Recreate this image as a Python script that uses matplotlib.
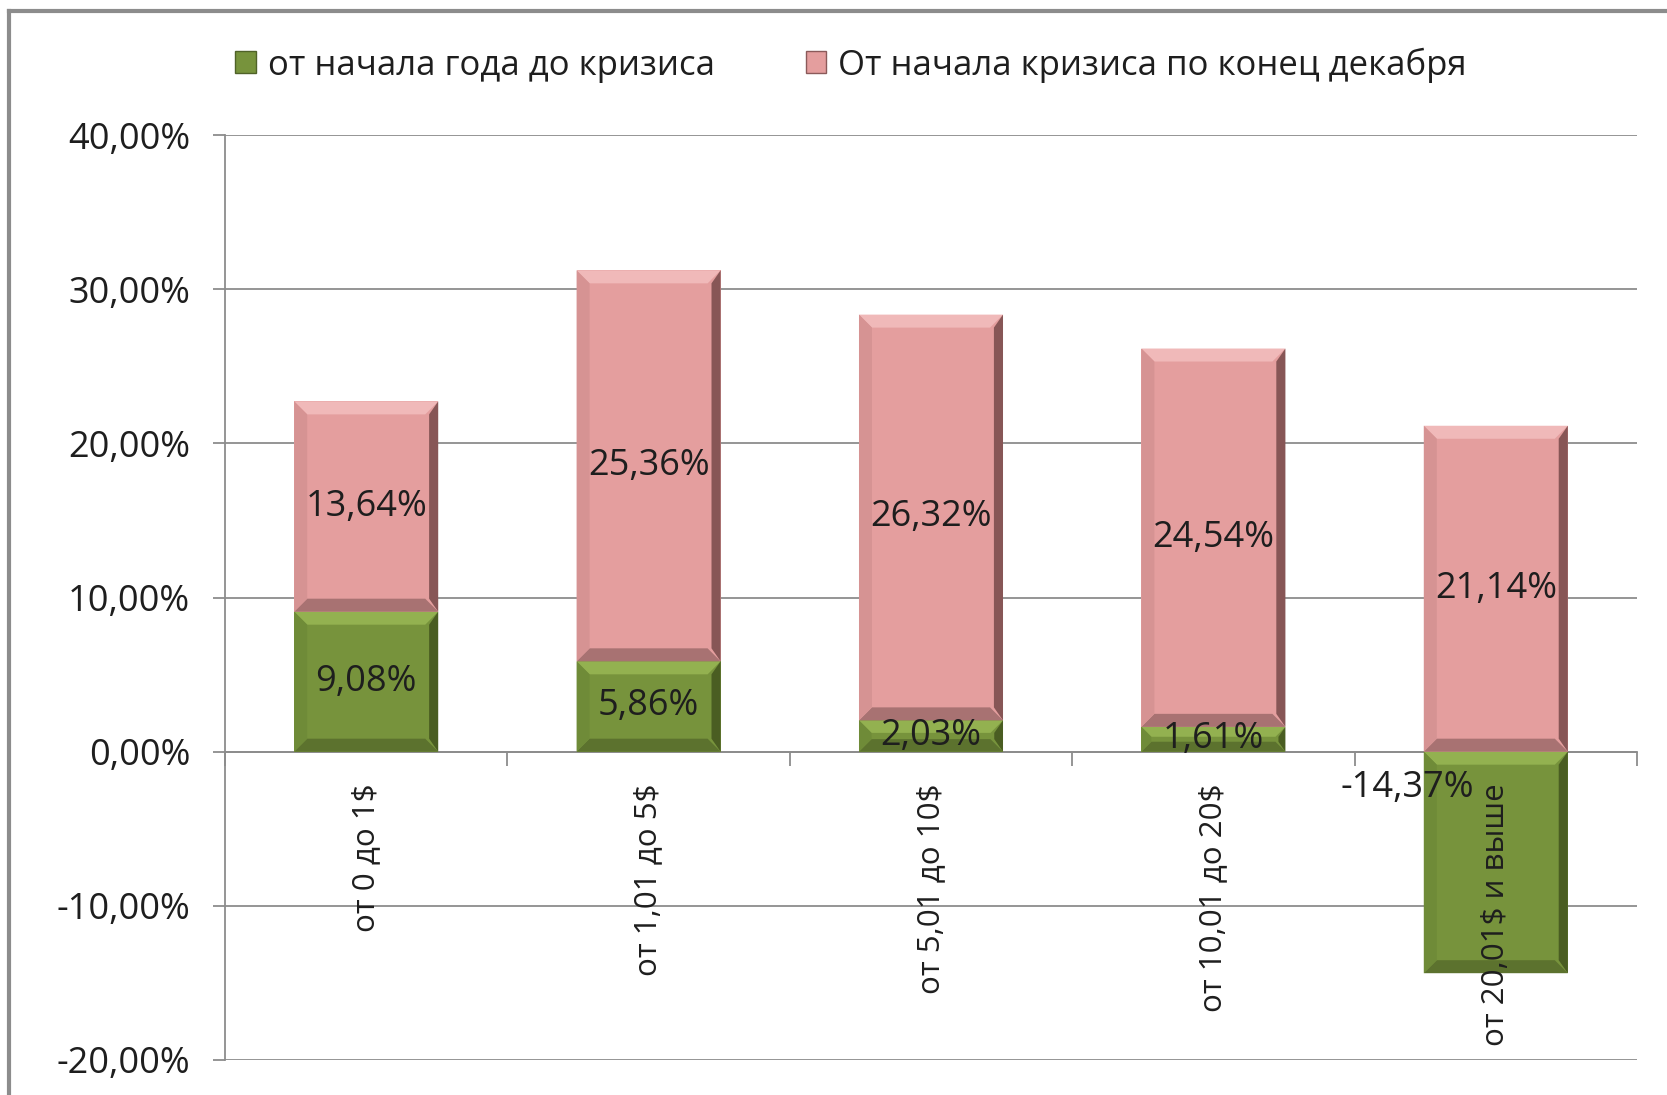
import matplotlib
matplotlib.use("Agg")
import matplotlib.pyplot as plt
from matplotlib.patches import Patch, Polygon
from matplotlib.lines import Line2D
from matplotlib.ticker import FuncFormatter, FixedLocator

# Данные
categories = ["от 0 до 1$", "от 1,01 до 5$", "от 5,01 до 10$", "от 10,01 до 20$", "от 20,01$ и выше"]
do_krizisa = [9.08, 5.86, 2.03, 1.61, -14.37]
posle_krizisa = [13.64, 25.36, 26.32, 24.54, 21.14]
series_names = ["от начала года до кризиса", "От начала кризиса по конец декабря"]

plt.rcParams["font.family"] = ["Open Sans", "DejaVu Sans"]

# Цвета
green = "#77933C"
pink = "#E49E9E"
grid_color = "#8C8C8C"
text_color = "#1E1E1E"

fig = plt.figure(figsize=(16.67, 10.95), dpi=100)
ax = fig.add_axes([225 / 1667, 1 - 1060 / 1095, 1412 / 1667, 925 / 1095])

x_pos = list(range(len(categories)))
bar_width = 0.51
ax.set_xlim(-0.5, len(categories) - 0.5)
ax.set_ylim(-20, 40)

bottoms = [max(v, 0) for v in do_krizisa]
bars_g = ax.bar(x_pos, do_krizisa, width=bar_width, color=green, zorder=3)
bars_p = ax.bar(x_pos, posle_krizisa, width=bar_width, bottom=bottoms, color=pink, zorder=3)


def bevel(patch, light, dark, side_l, side_r, d=13):
    # фаска по краям столбика (в пикселях)
    x0 = patch.get_x()
    y0 = patch.get_y()
    x1 = x0 + patch.get_width()
    y1 = y0 + patch.get_height()
    (px0, py0), (px1, py1) = ax.transData.transform([(x0, min(y0, y1)), (x1, max(y0, y1))])
    dd = min(d, (py1 - py0) / 2.5)
    inv = ax.transData.inverted()
    shapes = [
        ([(px0, py1), (px1, py1), (px1 - dd, py1 - dd), (px0 + dd, py1 - dd)], light),
        ([(px0, py0), (px1, py0), (px1 - dd, py0 + dd), (px0 + dd, py0 + dd)], dark),
        ([(px0, py0), (px0, py1), (px0 + dd, py1 - dd), (px0 + dd, py0 + dd)], side_l),
        ([(px1, py0), (px1, py1), (px1 - dd * 0.7, py1 - dd), (px1 - dd * 0.7, py0 + dd)], side_r),
    ]
    for pts, c in shapes:
        ax.add_patch(Polygon(inv.transform(pts), closed=True, facecolor=c, edgecolor="none", zorder=4))


for p in bars_g:
    bevel(p, "#93B150", "#5C722E", "#6F8B38", "#4A5D22")
for p in bars_p:
    bevel(p, "#F0B9B9", "#A87272", "#D69393", "#875656")


def fmt(v):
    return ("%.2f%%" % v).replace(".", ",")


# Подписи значений
for i in x_pos:
    g = do_krizisa[i]
    if g >= 0:
        ax.text(i, g / 2, fmt(g), ha="center", va="center", fontsize=26, color=text_color, zorder=5)
    else:
        ax.text(i - 0.315, -2.35, fmt(g), ha="center", va="center", fontsize=26, color=text_color, zorder=5)
    ax.text(i, bottoms[i] + posle_krizisa[i] / 2, fmt(posle_krizisa[i]), ha="center", va="center",
            fontsize=26, color=text_color, zorder=5)

# Подписи категорий (поверх столбиков)
for i, cat in zip(x_pos, categories):
    ax.annotate(cat, (i, 0), xytext=(0, -23), textcoords="offset points", rotation=90,
                ha="center", va="top", fontsize=22.5, color=text_color, zorder=6)

# Оси
ax.yaxis.set_major_locator(FixedLocator(range(-20, 41, 10)))
ax.yaxis.set_major_formatter(FuncFormatter(lambda v, pos: fmt(v)))
ax.grid(axis="y", color=grid_color, linewidth=1.3, zorder=0)
ax.set_axisbelow(True)
ax.tick_params(axis="y", direction="out", length=9, width=1.3, color=grid_color, labelsize=26,
               labelcolor=text_color, pad=16)

ax.spines["top"].set_visible(False)
ax.spines["right"].set_visible(False)
ax.spines["left"].set_color(grid_color)
ax.spines["left"].set_linewidth(1.3)
ax.spines["bottom"].set_position(("data", 0))
ax.spines["bottom"].set_color(grid_color)
ax.spines["bottom"].set_linewidth(1.3)

ax.set_xticks(x_pos)
ax.set_xticklabels([])
ax.tick_params(axis="x", which="major", length=0)
ax.set_xticks([i - 0.5 for i in range(len(categories) + 1)], minor=True)
ax.tick_params(axis="x", which="minor", direction="out", length=10, width=1.3, color=grid_color)

# Легенда
handles = [Patch(facecolor=green, edgecolor="#4F6228"), Patch(facecolor=pink, edgecolor="#8B5A5A")]
fig.legend(handles, series_names, loc="center left", bbox_to_anchor=(204 / 1667, 1 - 65 / 1095),
           ncol=2, frameon=False, fontsize=25, handlelength=0.6, handleheight=0.6,
           handletextpad=0.35, columnspacing=2.6, labelcolor=text_color)

# Рамка
fig.add_artist(Line2D([9 / 1667, 1], [1 - 11 / 1095, 1 - 11 / 1095], color="#8C8C8C", linewidth=3,
                      transform=fig.transFigure))
fig.add_artist(Line2D([9 / 1667, 9 / 1667], [0, 1 - 11 / 1095], color="#8C8C8C", linewidth=3,
                      transform=fig.transFigure))

fig.savefig("out.png", dpi=100)
plt.close(fig)
